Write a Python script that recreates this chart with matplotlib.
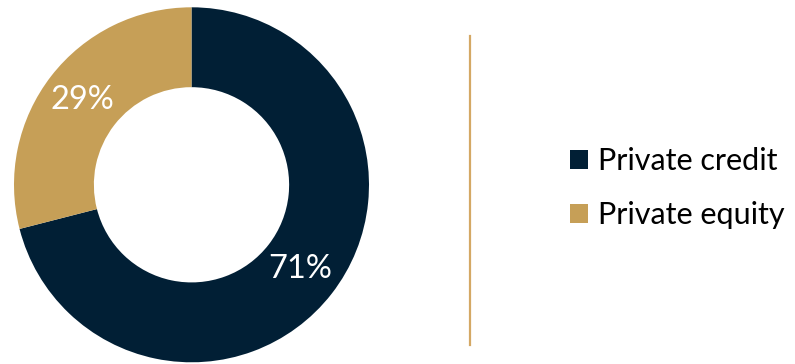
import matplotlib.pyplot as plt
from matplotlib.lines import Line2D

plt.rcParams['font.family'] = ['Lato', 'DejaVu Sans']

categories = ["Private credit", "Private equity"]
shares = [71, 29]
colors = ["#011F35", "#C69F57"]

W, H = 795, 364
fig = plt.figure(figsize=(W / 100, H / 100), dpi=100)

# donut axes (square, positioned in pixel terms)
cx, cy, r = 191.5, 364 - 184.8, 177.5
ax = fig.add_axes([(cx - r) / W, (cy - r) / H, 2 * r / W, 2 * r / H])
wedges, texts, autotexts = ax.pie(
    shares, colors=colors, startangle=90, counterclock=False,
    radius=1.0, wedgeprops=dict(width=0.45, linewidth=0),
    autopct=lambda p: f"{p:.0f}%", pctdistance=0.775,
    textprops=dict(color="white", fontsize=23.5),
)
ax.set_xlim(-1, 1)
ax.set_ylim(-1, 1)
ax.set_aspect("equal")
ax.axis("off")

# divider line
fig.add_artist(Line2D([470 / W, 470 / W], [(H - 345) / H, (H - 36) / H],
                      color="#D4A865", linewidth=1.6, transform=fig.transFigure))

leg = fig.legend(wedges, categories, loc="center left",
                 bbox_to_anchor=(570 / W, (H - 188) / H),
                 frameon=False, fontsize=22,
                 handlelength=0.6, handleheight=0.6,
                 handletextpad=0.3, labelspacing=0.85, borderpad=0,
                 borderaxespad=0)

fig.savefig("out.png", dpi=100)
